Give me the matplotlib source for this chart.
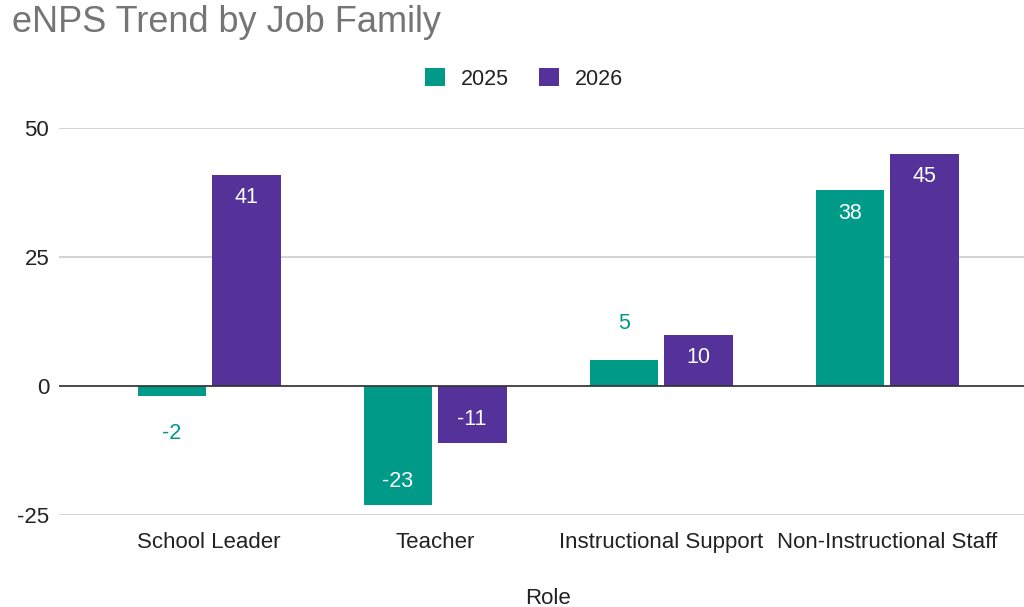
import matplotlib.pyplot as plt
from matplotlib.patches import Patch
import numpy as np

# Datos del gráfico
roles = ["School Leader", "Teacher", "Instructional Support", "Non-Instructional Staff"]
enps_2025 = [-2, -23, 5, 38]
enps_2026 = [41, -11, 10, 45]
anios = ["2025", "2026"]

color_2025 = "#009a89"
color_2026 = "#54329a"

plt.rcParams['font.family'] = ['Liberation Sans', 'DejaVu Sans']
plt.rcParams['axes.unicode_minus'] = False

fig = plt.figure(figsize=(10.24, 6.07), dpi=100)
ax = fig.add_axes([59 / 1024, 1 - 515 / 607, (1024 - 59) / 1024, (515 - 128.3) / 607])

x = np.arange(len(roles))
ancho = 0.305
desplaz = 0.164

barras_a = ax.bar(x - desplaz, enps_2025, ancho, color=color_2025, zorder=3)
barras_b = ax.bar(x + desplaz, enps_2026, ancho, color=color_2026, zorder=3)

# Etiquetas de valor: dentro si la barra es grande, fuera si es pequeña
for barras, valores, color in [(barras_a, enps_2025, color_2025), (barras_b, enps_2026, color_2026)]:
    for b, v in zip(barras, valores):
        cx = b.get_x() + b.get_width() / 2
        signo = 1 if v >= 0 else -1
        if abs(v) >= 8:
            ax.annotate(str(v), (cx, v), xytext=(0, -16.5 * signo), textcoords="offset points",
                        ha="center", va="center", color="white", fontsize=15.5, zorder=4)
        else:
            ax.annotate(str(v), (cx, v), xytext=(0, 26.5 * signo), textcoords="offset points",
                        ha="center", va="center", color=color, fontsize=15.5, zorder=4)

ax.set_ylim(-25, 50)
ax.set_xlim(-0.664, 3.606)
ax.set_yticks([-25, 0, 25, 50])
ax.set_xticks(x)
ax.set_xticklabels(roles)
ax.tick_params(axis="both", length=0, labelsize=16, colors="#222222")
ax.tick_params(axis="x", pad=12)
ax.tick_params(axis="y", pad=7)
ax.grid(axis="y", color="#cccccc", linewidth=1.2, zorder=0)
ax.axhline(0, color="#333333", linewidth=1.2, zorder=5)
for s in ax.spines.values():
    s.set_visible(False)

fig.text(548 / 1024, 1 - 598 / 607, "Role", ha="center", va="center", fontsize=16, color="#222222")
fig.text(12 / 1024, 1 - 23 / 607, "eNPS Trend by Job Family", ha="left", va="center",
         fontsize=26, color="#757575")

handles = [Patch(facecolor=color_2025), Patch(facecolor=color_2026)]
fig.legend(handles, anios, loc="center", bbox_to_anchor=(524 / 1024, 1 - 79 / 607), ncol=2,
           frameon=False, fontsize=15.5, handlelength=0.92, handleheight=0.92,
           handletextpad=0.75, columnspacing=1.4, labelcolor="#222222")

fig.savefig("out.png", dpi=100, facecolor="white")
plt.close(fig)
